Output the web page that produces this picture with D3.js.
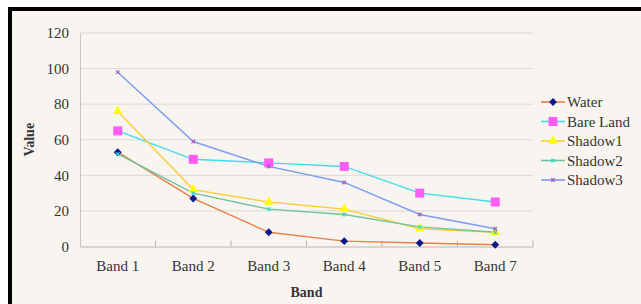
<!DOCTYPE html>
<html>
<head>
<meta charset="utf-8">
<script src="https://cdn.jsdelivr.net/npm/d3@7"></script>
<style>
  body { margin: 0; background: #fff; }
  svg text { font-family: "Liberation Serif", "Times New Roman", serif; fill: #333; }
</style>
</head>
<body>
<div id="chart"></div>
<script>
  var bands = ["Band 1", "Band 2", "Band 3", "Band 4", "Band 5", "Band 7"];
  var water = [53, 27, 8, 3, 2, 1];
  var bareLand = [65, 49, 47, 45, 30, 25];
  var shadow1 = [76, 32, 25, 21, 10, 8];
  var shadow2 = [52, 30, 21, 18, 11, 8];
  var shadow3 = [98, 59, 45, 36, 18, 10];
  var yTicks = [0, 20, 40, 60, 80, 100, 120];

  var series = [
    { name: "Water", values: water, line: "#ec7d45", marker: "#0a1a8c", shape: "diamond" },
    { name: "Bare Land", values: bareLand, line: "#3fdcec", marker: "#ff5cf5", shape: "square" },
    { name: "Shadow1", values: shadow1, line: "#ffcc33", marker: "#ffff00", shape: "triangle" },
    { name: "Shadow2", values: shadow2, line: "#6fc49c", marker: "#33d6d6", shape: "cross" },
    { name: "Shadow3", values: shadow3, line: "#7c9cf0", marker: "#a05ac8", shape: "cross" }
  ];

  var W = 641, H = 304;
  var margin = { top: 33, right: 108, bottom: 57.5, left: 80 };
  var width = W - margin.left - margin.right,
      height = H - margin.top - margin.bottom;

  var svg = d3.select("#chart").append("svg")
    .attr("width", W)
    .attr("height", H)
    .attr("font-family", "'Liberation Serif', serif");

  // frame
  svg.append("rect")
    .attr("x", 10).attr("y", 9)
    .attr("width", W + 10).attr("height", H + 10)
    .attr("fill", "#f8f5f0")
    .attr("stroke", "#000")
    .attr("stroke-width", 4);

  var chart = svg.append("g")
    .attr("transform", "translate(" + margin.left + "," + margin.top + ")");

  var x = d3.scaleBand().domain(bands).range([0, width]).padding(0);
  var y = d3.scaleLinear().domain([0, 120]).range([height, 0]);

  // gridlines
  chart.append("g")
    .selectAll("line")
    .data(yTicks.filter(function(d) { return d > 0; }))
    .enter().append("line")
    .attr("x1", 0).attr("x2", width)
    .attr("y1", function(d) { return y(d); })
    .attr("y2", function(d) { return y(d); })
    .attr("stroke", "#dcd8d2")
    .attr("stroke-width", 1);

  // y axis
  var yAxis = chart.append("g")
    .call(d3.axisLeft(y).tickValues(yTicks).tickSize(0).tickPadding(11));
  yAxis.attr("font-family", null);
  yAxis.select(".domain").attr("stroke", "#c8c4be");
  yAxis.selectAll("text").style("font-size", "15px").attr("fill", "#333");

  // x axis
  var xAxis = chart.append("g")
    .attr("transform", "translate(0," + height + ")")
    .call(d3.axisBottom(x).tickSize(0).tickPadding(14));
  xAxis.attr("font-family", null);
  xAxis.select(".domain").attr("stroke", "#b8b4ae");
  xAxis.selectAll("text").style("font-size", "15px").attr("fill", "#333");
  chart.append("g")
    .selectAll("line")
    .data(bands.slice(1).concat(["end"]))
    .enter().append("line")
    .attr("x1", function(d, i) { return x.step() * (i + 1); })
    .attr("x2", function(d, i) { return x.step() * (i + 1); })
    .attr("y1", height - 6).attr("y2", height)
    .attr("stroke", "#b8b4ae");

  // axis titles
  svg.append("text")
    .attr("transform", "translate(34," + (margin.top + height / 2) + ") rotate(-90)")
    .attr("text-anchor", "middle")
    .style("font-size", "14px")
    .style("font-weight", "bold")
    .attr("fill", "#111")
    .text("Value");
  svg.append("text")
    .attr("x", margin.left + width / 2)
    .attr("y", 297)
    .attr("text-anchor", "middle")
    .style("font-size", "14px")
    .style("font-weight", "bold")
    .attr("fill", "#111")
    .text("Band");

  function drawMarker(g, s, cx, cy) {
    if (s.shape == "diamond") {
      g.append("rect").attr("x", -2.8).attr("y", -2.8)
        .attr("width", 5.6).attr("height", 5.6)
        .attr("transform", "translate(" + cx + "," + cy + ") rotate(45)")
        .attr("fill", s.marker);
    } else if (s.shape == "square") {
      g.append("rect").attr("x", cx - 4.5).attr("y", cy - 4.5)
        .attr("width", 9).attr("height", 9).attr("fill", s.marker);
    } else if (s.shape == "triangle") {
      g.append("path").attr("d", d3.symbol().type(d3.symbolTriangle).size(40)())
        .attr("transform", "translate(" + cx + "," + cy + ")")
        .attr("fill", s.marker);
    } else {
      g.append("path").attr("d", d3.symbol().type(d3.symbolX).size(10)())
        .attr("transform", "translate(" + cx + "," + cy + ")")
        .attr("fill", "none").attr("stroke", s.marker).attr("stroke-width", 1.2);
    }
  }

  var line = d3.line()
    .x(function(d, i) { return x(bands[i]) + x.bandwidth() / 2; })
    .y(function(d) { return y(d); });

  series.forEach(function(s) {
    chart.append("path")
      .datum(s.values)
      .attr("d", line)
      .attr("fill", "none")
      .attr("stroke", s.line)
      .attr("stroke-width", 1.4);
  });
  series.forEach(function(s) {
    var g = chart.append("g");
    s.values.forEach(function(v, i) {
      drawMarker(g, s, x(bands[i]) + x.bandwidth() / 2, y(v));
    });
  });

  // legend
  var legend = svg.append("g").attr("transform", "translate(541,102)");
  series.forEach(function(s, i) {
    var g = legend.append("g").attr("transform", "translate(0," + (i * 19.5) + ")");
    g.append("line").attr("x1", 0).attr("x2", 24).attr("y1", 0).attr("y2", 0)
      .attr("stroke", s.line).attr("stroke-width", 1.6);
    drawMarker(g, s, 12, 0);
    g.append("text").attr("x", 26).attr("y", 5)
      .style("font-size", "15px").attr("fill", "#333").text(s.name);
  });
</script>
</body>
</html>
